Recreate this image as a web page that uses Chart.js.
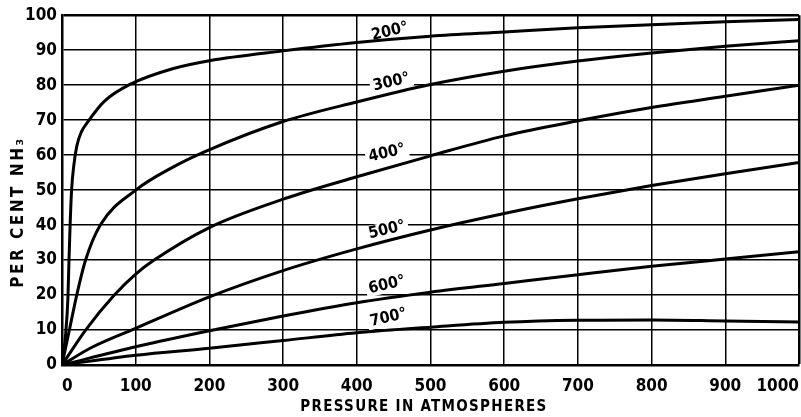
<!DOCTYPE html>
<html><head><meta charset="utf-8">
<script src="https://cdn.jsdelivr.net/npm/chart.js@4"></script>
<style>html,body{margin:0;padding:0;background:#fff}#wrap{width:801px;height:417px}</style>
</head><body><div id="wrap"><canvas id="c" width="801" height="417"></canvas></div>
<script>
// ---- data ----
const xTickValues = [0,100,200,300,400,500,600,700,800,900,1000];
const yTickValues = [0,10,20,30,40,50,60,70,80,90,100];
const seriesNames = ['200°','300°','400°','500°','600°','700°'];
const xTitle = 'PRESSURE IN ATMOSPHERES';
const yTitle = 'PER CENT NH₃';

const p200   = [0, 5, 8, 9.5, 11, 13, 16, 20, 26, 35, 57, 93, 150, 200, 300, 400, 500, 600, 700, 800, 900, 1000];
const pct200 = [0, 9, 19, 30, 40, 50, 57, 62.5, 66.5, 69.5, 75.3, 80.3, 84.7, 87, 89.8, 92.2, 94, 95.2, 96.4, 97.3, 98.1, 98.8];

const p300   = [0, 10, 20, 32, 52, 100, 150, 194, 300, 400, 500, 600, 700, 800, 900, 1000];
const pct300 = [0, 10, 20, 30, 40, 50, 56.5, 61, 69.6, 75.2, 80.2, 84, 86.9, 89.2, 91.1, 92.7];

const p400   = [0, 32, 71, 100, 125, 200, 300, 400, 500, 600, 700, 800, 900, 1000];
const pct400 = [0, 10, 20, 26, 30, 39.3, 47.4, 53.8, 59.8, 65.5, 69.8, 73.6, 76.8, 80];

const p500   = [0, 40, 100, 200, 300, 400, 500, 600, 700, 800, 900, 1000];
const pct500 = [0, 5, 10.5, 19.5, 27, 33.2, 38.6, 43.3, 47.5, 51.3, 54.7, 57.9];

const p600   = [0, 100, 200, 300, 400, 500, 600, 700, 800, 900, 1000];
const pct600 = [0, 5.2, 9.8, 14, 17.8, 20.8, 23.3, 25.8, 28.2, 30.3, 32.4];

const p700   = [0, 100, 200, 300, 400, 500, 600, 700, 800, 900, 1000];
const pct700 = [0, 2.8, 4.8, 7, 9.2, 10.8, 12.2, 12.8, 12.9, 12.6, 12.3];

// label anchor points (data coordinates) for the curve labels
const labelAnchors = [[445,95.3],[447,80.8],[441,60.5],[441,38.6],[441,22.9],[443,13.5]];

// ---- build ----
const pressures = [p200,p300,p400,p500,p600,p700];
const percents  = [pct200,pct300,pct400,pct500,pct600,pct700];
const FONT = "'DejaVu Sans Condensed', 'DejaVu Sans', sans-serif";

const datasets = seriesNames.map((name,i)=>({
  label: name,
  data: pressures[i].map((p,j)=>({x:p, y:percents[i][j]})),
  borderColor:'#000', borderWidth:3, pointRadius:0, fill:false,
  cubicInterpolationMode:'monotone'
}));

const labelPlugin = {
  id:'curveLabels',
  beforeDatasetsDraw(chart){
    const ctx = chart.ctx, xs = chart.scales.x, ys = chart.scales.y;
    ctx.save();
    ctx.font = 'bold 16px ' + FONT;
    labelAnchors.forEach((a,i)=>{
      const w = ctx.measureText(seriesNames[i]).width;
      ctx.save();
      ctx.translate(xs.getPixelForValue(a[0]), ys.getPixelForValue(a[1]));
      ctx.rotate(-13*Math.PI/180);
      ctx.fillStyle = '#fff';
      ctx.fillRect(-w/2-3, -8, w+6, 16);
      ctx.restore();
    });
    ctx.restore();
  },
  afterDatasetsDraw(chart){
    const ctx = chart.ctx, xs = chart.scales.x, ys = chart.scales.y;
    ctx.save();
    ctx.font = 'bold 16px ' + FONT;
    ctx.fillStyle = '#000';
    ctx.textAlign = 'center'; ctx.textBaseline = 'middle';
    labelAnchors.forEach((a,i)=>{
      ctx.save();
      ctx.translate(xs.getPixelForValue(a[0]), ys.getPixelForValue(a[1]));
      ctx.rotate(-13*Math.PI/180);
      ctx.fillText(seriesNames[i], 0, 0);
      ctx.restore();
    });
    // axis titles
    ctx.font = 'bold 15px ' + FONT;
    try { ctx.letterSpacing = '1.3px'; } catch(e) {}
    ctx.fillText(xTitle, 424, 407);
    ctx.font = 'bold 17px ' + FONT;
    try { ctx.letterSpacing = '2.5px'; } catch(e) {}
    ctx.save();
    ctx.translate(19, 212);
    ctx.rotate(-Math.PI/2);
    ctx.fillText(yTitle, 0, 0);
    ctx.restore();
    ctx.restore();
  }
};

new Chart(document.getElementById('c'), {
  type:'line',
  data:{datasets},
  plugins:[labelPlugin],
  options:{
    responsive:false, animation:false, devicePixelRatio:1,
    layout:{padding:{top:14, right:2, left:0, bottom:0}},
    plugins:{legend:{display:false}, tooltip:{enabled:false}},
    scales:{
      x:{
        type:'linear', min:0, max:1000,
        afterBuildTicks(s){ s.ticks = xTickValues.map(v=>({value:v})); },
        afterFit(s){ s.height = 52; s.paddingLeft = 0; s.paddingRight = 0; },
        grid:{color:'#000', lineWidth:(c)=> (c.tick && c.tick.value===1000) ? 2.5 : 1.5, drawTicks:false},
        border:{display:true, color:'#000', width:2.5},
        ticks:{align:'inner', color:'#000', padding:11, maxRotation:0, autoSkip:false,
               callback:(v)=>String(v),
               font:{family:FONT, size:17, weight:'bold'}}
      },
      y:{
        type:'linear', min:0, max:100,
        afterBuildTicks(s){ s.ticks = yTickValues.map(v=>({value:v})); },
        afterFit(s){ s.width = 62; },
        grid:{color:'#000', lineWidth:(c)=> (c.tick && c.tick.value===100) ? 2.5 : 1.5, drawTicks:false},
        border:{display:true, color:'#000', width:2.5},
        ticks:{color:'#000', padding:5, callback:(v)=>String(v),
               font:{family:FONT, size:17, weight:'bold'}}
      }
    }
  }
});
</script></body></html>
